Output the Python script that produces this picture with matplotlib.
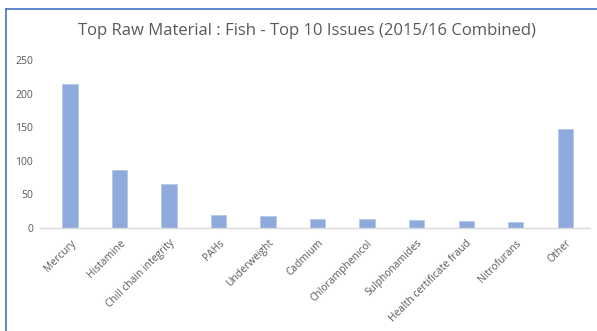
import matplotlib
matplotlib.use("Agg")
import matplotlib.pyplot as plt
from matplotlib.lines import Line2D

categories = ["Mercury", "Histamine", "Chill chain integrity", "PAHs", "Underweight",
              "Cadmium", "Chloramphenicol", "Sulphonamides", "Health certificate fraud",
              "Nitrofurans", "Other"]
values = [214, 87, 65, 19, 18, 14, 13, 12, 11, 9, 148]
yticks = [0, 50, 100, 150, 200, 250]
title = "Top Raw Material : Fish - Top 10 Issues (2015/16 Combined)"

W, H = 597, 331
fig = plt.figure(figsize=(W / 100, H / 100), dpi=100)
plt.rcParams['font.family'] = ['Open Sans', 'DejaVu Sans']

left, right, bottom, top = 40, 590, 228, 60
ax = fig.add_axes([left / W, 1 - bottom / H, (right - left) / W, (bottom - top) / H])
x = list(range(len(categories)))
ax.bar(x, values, width=0.31, color="#8FAADC", edgecolor="#B4C7E7", linewidth=0.6, zorder=2)
ax.set_xlim(-0.606, 10.5)
ax.set_ylim(0, 250)
ax.set_yticks(yticks)
ax.set_yticklabels([str(v) for v in yticks], fontsize=7.5, color="#595959")
ax.set_xticks(x)
ax.set_xticklabels(categories, rotation=45, ha="right", rotation_mode="anchor",
                   fontsize=7.4, color="#595959")
ax.tick_params(axis="both", length=0)
ax.tick_params(axis="y", pad=5)
ax.tick_params(axis="x", pad=7)
for s in ["top", "right", "left"]:
    ax.spines[s].set_visible(False)
ax.spines["bottom"].set_color("#D9D9D9")
ax.spines["bottom"].set_linewidth(1.0)

fig.text(307 / W, 1 - 31 / H, title, ha="center", va="center", fontsize=12, color="#595959")

# blue frame (top and left edges)
fig.add_artist(Line2D([6 / W, 1], [1 - 9 / H, 1 - 9 / H], color="#4472C4", lw=1.2,
                      transform=fig.transFigure))
fig.add_artist(Line2D([6 / W, 6 / W], [0, 1 - 9 / H], color="#4472C4", lw=1.2,
                      transform=fig.transFigure))

fig.savefig("out.png", dpi=100)
